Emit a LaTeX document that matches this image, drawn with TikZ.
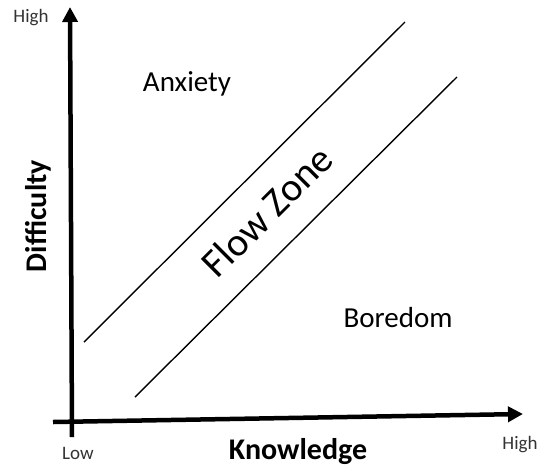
\documentclass[tikz,border=0pt]{standalone}
\usepackage{fontspec}
\setmainfont{Carlito}
\usetikzlibrary{arrows.meta}
\begin{document}
\begin{tikzpicture}[x=1pt,y=-1pt,
  axis/.style={line width=4.5pt,-{Triangle[length=15pt,width=15pt]}},
  zoneline/.style={line width=1.4pt},
  lbl/.style={inner sep=0pt,font=\fontsize{29}{32}\selectfont},
  axlbl/.style={inner sep=0pt,font=\fontsize{30}{33}\selectfont\bfseries},
  small/.style={inner sep=0pt,font=\fontsize{19}{21}\selectfont,text=black!80}]
\useasboundingbox (0,0) rectangle (538,467);
% axes
\coordinate (xs) at (53,422);
\coordinate (xe) at (523,414);
\coordinate (ys) at (72,437);
\coordinate (ye) at (70,7);
\draw[axis] (xs) -- (xe);
\draw[axis] (ys) -- (ye);
% flow zone boundaries
\coordinate (u1) at (84,342);
\coordinate (u2) at (405,22);
\coordinate (l1) at (135,397);
\coordinate (l2) at (457,77);
\draw[zoneline] (u1) -- (u2);
\draw[zoneline] (l1) -- (l2);
% labels
\node[lbl] (anx) at (187,84) {Anxiety};
\node[lbl] (bor) at (398,318) {Boredom};
\node[inner sep=0pt,font=\fontsize{40}{44}\selectfont,rotate=45] (flow) at (267,211) {Flow Zone};
\node[axlbl,rotate=90] (diff) at (38,216) {Difficulty};
\node[axlbl] (know) at (298,452) {Knowledge};
\node[small] (hy) at (31,18) {High};
\node[small] (lo) at (78,453) {Low};
\node[small] (hx) at (520,445) {High};
\end{tikzpicture}
\end{document}
